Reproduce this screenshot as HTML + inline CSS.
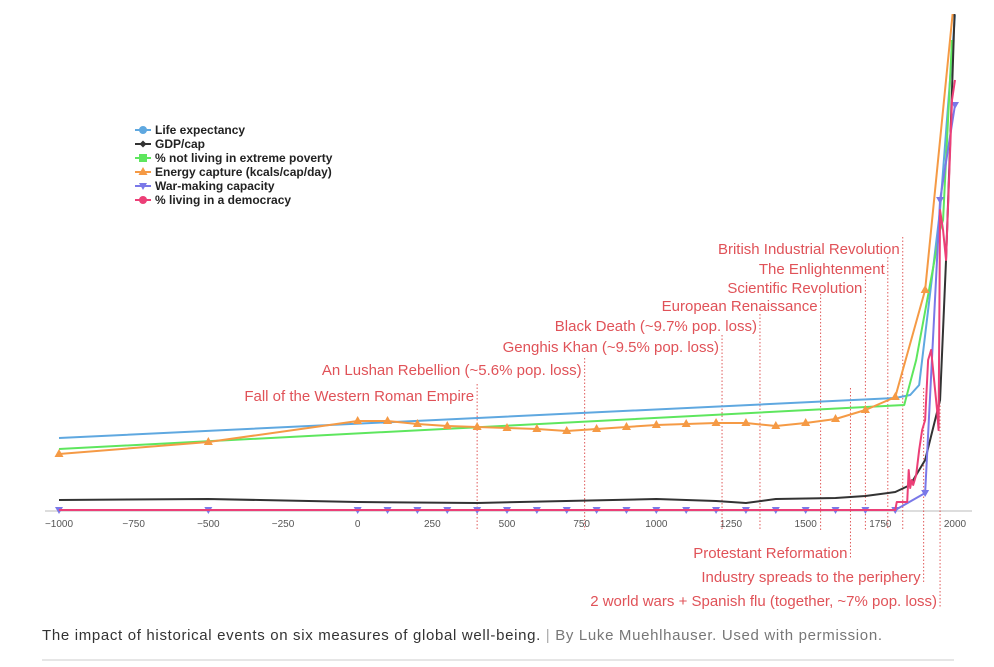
<!DOCTYPE html>
<html><head><meta charset="utf-8"><style>
body{margin:0;background:#fff;width:994px;height:667px;overflow:hidden;font-family:"Liberation Sans",sans-serif}
svg{position:absolute;left:0;top:0}
</style></head><body>
<svg id="chart" width="994" height="667" viewBox="0 0 994 667"></svg>
<script>
const ticks=[-1000,-750,-500,-250,0,250,500,750,1000,1250,1500,1750,2000];
const lifeX=[-1000,1800,1850,1880,1950,2000];
const lifeY=[72,112,115,125,300,495];
const gdpX=[-1000,-500,0,400,1000,1200,1300,1400,1600,1700,1800,1850,1900,1950,1970,1990,2000];
const gdpY=[10,11,8,7,11,9,7,11,12,14,18,25,50,110,250,420,510];
const povX=[-1000,1830,1870,1950,1960,1990];
const povY=[61,105,150,280,290,470];
const enX=[-1000,-500,0,100,200,300,400,500,600,700,800,900,1000,1100,1200,1300,1400,1500,1600,1700,1800,1900,2000];
const enY=[56,68,89,89,86,84,83,82,81,79,81,83,85,86,87,87,84,87,91,100,113,220,520];
const warX=[-1000,-500,0,100,200,300,400,500,600,700,800,900,1000,1100,1200,1300,1400,1500,1600,1700,1800,1900,1950,2000];
const warY=[0,0,0,0,0,0,0,0,0,0,0,0,0,0,0,0,0,0,0,0,0,17,310,405];
const demX=[-1000,1800,1805,1840,1845,1850,1855,1860,1870,1880,1890,1900,1910,1920,1930,1940,1945,1950,1960,1970,1980,1990,2000];
const demY=[0,0,8,8,40,22,30,25,35,60,80,90,150,160,130,100,80,300,280,250,330,410,430];
const events=[
 ["Fall of the Western Roman Empire",400,396,'up'],
 ["An Lushan Rebellion (~5.6% pop. loss)",760,370,'up'],
 ["Genghis Khan (~9.5% pop. loss)",1220,347,'up'],
 ["Black Death (~9.7% pop. loss)",1347,326,'up'],
 ["European Renaissance",1550,306,'up'],
 ["Scientific Revolution",1700,288,'up'],
 ["The Enlightenment",1775,269,'up'],
 ["British Industrial Revolution",1825,249,'up'],
 ["Protestant Reformation",1650,553,'down'],
 ["Industry spreads to the periphery",1895,577,'down'],
 ["2 world wars + Spanish flu (together, ~7%  pop. loss)",1950,601,'down']];
const sx=v=>59+(v+1000)*896/3000;
const sy=v=>510-v;
const svg=document.getElementById('chart');
const NS='http://www.w3.org/2000/svg';
function mk(t,a,p){const e=document.createElementNS(NS,t);for(const k in a)e.setAttribute(k,a[k]);(p||svg).appendChild(e);return e;}
const clip=mk('clipPath',{id:'c'});mk('rect',{x:0,y:14,width:994,height:520},clip);
const ax=mk('line',{x1:45,x2:972,y1:511,y2:511,stroke:'#ddd','stroke-width':2});


ticks.forEach(t=>{
 const tl=mk('text',{x:sx(t),y:527,'font-size':10,fill:'#555','text-anchor':'middle'});
 
 
 tl.textContent=String(t).replace('-','\u2212');
});
events.forEach(e=>{
 const x=sx(e[1]);
 const y1=e[3]==='up'?e[2]-12:388, y2=e[3]==='up'?530:e[2]+6;
 const l=mk('line',{x1:x,x2:x,y1:y1,y2:y2,stroke:'#e05a5a','stroke-width':1,'stroke-dasharray':'1.5,2'});
 
 
});
function series(xs,ys,color,name,marker){
 const g=mk('g',{'clip-path':'url(#c)'});
 
 
 const pts=xs.map((x,i)=>sx(x)+','+sy(ys[i])).join(' ');
 mk('polyline',{points:pts,fill:'none',stroke:color,'stroke-width':2,'stroke-linejoin':'round'},g);
 if(marker)xs.forEach((x,i)=>{
  const X=sx(x),Y=sy(ys[i]);
  let m;
  if(marker==='up')m=mk('polygon',{points:`${X},${Y-5} ${X-4.5},${Y+3} ${X+4.5},${Y+3}`,fill:color},g);
  else m=mk('polygon',{points:`${X-4},${Y-3} ${X+4},${Y-3} ${X},${Y+4}`,fill:color},g);
  
  
 });
}
series(lifeX,lifeY,'#5fa8e0','life-expectancy-line');
series(povX,povY,'#5ee65e','poverty-line');
series(gdpX,gdpY,'#333','gdp-line');
series(warX,warY,'#7a78e8','war-capacity-line','down');
series(demX,demY,'#ec3f77','democracy-line');
series(enX,enY,'#f59a45','energy-capture-line','up');
events.forEach(e=>{
 const t=mk('text',{x:sx(e[1])-3,y:e[2]+5,'font-size':15,fill:'#e05258','text-anchor':'end'});
 
 
 t.textContent=e[0];
});
const leg=[['Life expectancy','#5fa8e0','c'],['GDP/cap','#333','d'],['% not living in extreme poverty','#5ee65e','s'],['Energy capture (kcals/cap/day)','#f59a45','u'],['War-making capacity','#7a78e8','v'],['% living in a democracy','#ec3f77','c']];
leg.forEach((l,i)=>{
 const y=130+i*14;
 const g=mk('g',{});
 
 
 mk('line',{x1:135,x2:151,y1:y,y2:y,stroke:l[1],'stroke-width':2},g);
 if(l[2]==='c')mk('circle',{cx:143,cy:y,r:4,fill:l[1]},g);
 else if(l[2]==='d')mk('polygon',{points:`143,${y-3.5} 146.5,${y} 143,${y+3.5} 139.5,${y}`,fill:l[1]},g);
 else if(l[2]==='s')mk('rect',{x:139,y:y-4,width:8,height:8,fill:l[1]},g);
 else if(l[2]==='u')mk('polygon',{points:`143,${y-5} 138.5,${y+3} 147.5,${y+3}`,fill:l[1]},g);
 else mk('polygon',{points:`139,${y-3} 147,${y-3} 143,${y+4}`,fill:l[1]},g);
 const t=mk('text',{x:155,y:y+4,'font-size':12,'font-weight':'bold',fill:'#222'},g);
 t.textContent=l[0];
});
const cap=mk('text',{x:42,y:640,'font-size':15,fill:'#333',textLength:840,lengthAdjust:'spacing'});


cap.innerHTML='The impact of historical events on six measures of global well-being.  <tspan fill="#aaa">|</tspan> <tspan fill="#777">By Luke Muehlhauser. Used with permission.</tspan>';
const sep=mk('line',{x1:42,x2:954,y1:660,y2:660,stroke:'#ccc','stroke-width':1});


</script>
</body></html>
